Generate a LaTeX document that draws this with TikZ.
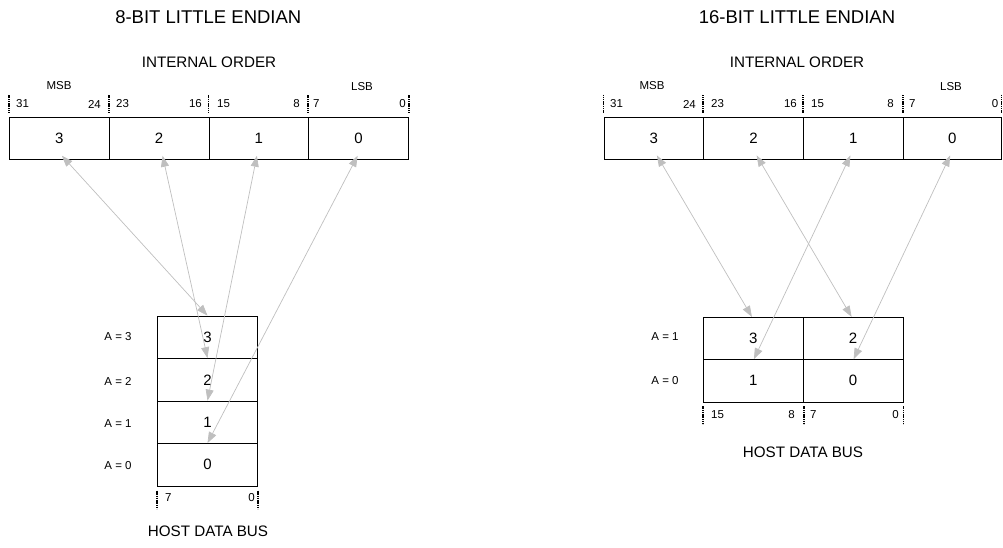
\documentclass[tikz,border=0pt]{standalone}
\usepackage{fontspec}
\setmainfont{Liberation Sans}
\usetikzlibrary{arrows.meta,calc}
\begin{document}
\begin{tikzpicture}[x=1pt,y=-1pt,
  cell/.style={draw=black,line width=0.9pt,minimum width=99.75pt,minimum height=42pt,inner sep=0pt,font=\fontsize{15}{17}\selectfont},
  hcell/.style={draw=black,line width=0.9pt,minimum width=99.6pt,minimum height=42.5pt,inner sep=0pt,font=\fontsize{15}{17}\selectfont},
  link/.style={draw=black!25,line width=0.7pt,{Triangle[length=11pt,width=8pt]}-{Triangle[length=11pt,width=8pt]}},
  tick/.style={line width=1.6pt,dash pattern=on 1.2pt off 0.6pt},
  bit/.style={font=\fontsize{11.5}{13}\selectfont,inner sep=0pt},
  title/.style={font=\fontsize{18.5}{21}\selectfont,inner sep=0pt},
  sub/.style={font=\fontsize{15.2}{17}\selectfont,inner sep=0pt}]
\useasboundingbox (0,0) rectangle (1003,548);

% ================= LEFT: 8-BIT =================
\node[title] (t1) at (208.3,17.3) {8-BIT LITTLE ENDIAN};
\node[sub] (io1) at (209,62.5) {INTERNAL ORDER};
\node[cell] (L3) at (59.4,138.3) {3};
\node[cell] (L2) at (159.1,138.3) {2};
\node[cell] (L1) at (258.9,138.3) {1};
\node[cell] (L0) at (358.6,138.3) {0};
\node[bit] (msb1) at (59,86) {MSB};
\node[bit] (lsb1) at (362,87) {LSB};
\foreach \c in {L3,L2,L1,L0}{
  \draw[tick] ($(\c.north west)+(0,-4)$) -- ($(\c.north west)+(0,-22)$);
}
\draw[tick] ($(L0.north east)+(0,-4)$) -- ($(L0.north east)+(0,-22)$);
\node[bit,anchor=west] (b31) at (16,104) {31};
\node[bit,anchor=east] (b24) at (101,104) {24};
\node[bit,anchor=west] (b23) at (116,104) {23};
\node[bit,anchor=east] (b16) at (202,104) {16};
\node[bit,anchor=west] (b15) at (217,104) {15};
\node[bit,anchor=east] (b8) at (300,104) {8};
\node[bit,anchor=west] (b7) at (313,104) {7};
\node[bit,anchor=east] (b0) at (406,104) {0};

\node[hcell] (H3) at (207.5,337.3) {3};
\node[hcell] (H2) at (207.5,379.8) {2};
\node[hcell] (H1) at (207.5,422.3) {1};
\node[hcell] (H0) at (207.5,464.8) {0};
\node[bit] (a3) at (118,337) {A = 3};
\node[bit] (a2) at (118,381) {A = 2};
\node[bit] (a1) at (118,424) {A = 1};
\node[bit] (a0) at (118,466) {A = 0};
\draw[tick] ($(H0.south west)+(0,4)$) -- ($(H0.south west)+(0,22)$);
\draw[tick] ($(H0.south east)+(0,4)$) -- ($(H0.south east)+(0,22)$);
\node[bit,anchor=west] (hb7) at (165,498) {7};
\node[bit,anchor=east] (hb0) at (255,498) {0};
\node[sub] (hdb1) at (208,531) {HOST DATA BUS};

\draw[link] ([xshift=2.5pt,yshift=4pt]L3.south) -- (H3.north);
\draw[link] ([xshift=3.5pt,yshift=4pt]L2.south) -- (H2.north);
\draw[link] ([xshift=-2pt,yshift=4pt]L1.south) -- (H1.north);
\draw[link] ([xshift=-1pt,yshift=4pt]L0.south) -- (H0.north);

% ================= RIGHT: 16-BIT =================
\node[title] (t2) at (797,17.3) {16-BIT LITTLE ENDIAN};
\node[sub] (io2) at (797,62.5) {INTERNAL ORDER};
\node[cell] (R3) at (653.9,138) {3};
\node[cell] (R2) at (753.6,138) {2};
\node[cell] (R1) at (853.4,138) {1};
\node[cell,minimum width=97.7pt] (R0) at (952.2,138) {0};
\node[bit] (msb2) at (652,86) {MSB};
\node[bit] (lsb2) at (951,87) {LSB};
\foreach \c in {R3,R2,R1,R0}{
  \draw[tick] ($(\c.north west)+(0,-4)$) -- ($(\c.north west)+(0,-22)$);
}
\draw[tick] ($(R0.north east)+(0,-4)$) -- ($(R0.north east)+(0,-22)$);
\node[bit,anchor=west] (c31) at (610,104) {31};
\node[bit,anchor=east] (c24) at (696,104) {24};
\node[bit,anchor=west] (c23) at (711,104) {23};
\node[bit,anchor=east] (c16) at (797,104) {16};
\node[bit,anchor=west] (c15) at (811,104) {15};
\node[bit,anchor=east] (c8) at (894,104) {8};
\node[bit,anchor=west] (c7) at (909,104) {7};
\node[bit,anchor=east] (c0) at (998.5,104) {0};

\node[hcell,minimum width=99.7pt,minimum height=42.3pt] (S3) at (753.4,338.5) {3};
\node[hcell,minimum width=99.7pt,minimum height=42.3pt] (S2) at (853.1,338.5) {2};
\node[hcell,minimum width=99.7pt,minimum height=42.3pt] (S1) at (753.4,380.8) {1};
\node[hcell,minimum width=99.7pt,minimum height=42.3pt] (S0) at (853.1,380.8) {0};
\node[bit] (s1) at (665,337) {A = 1};
\node[bit] (s0) at (665,381) {A = 0};
\draw[tick] ($(S1.south west)+(0,4)$) -- ($(S1.south west)+(0,22)$);
\draw[tick] ($(S1.south east)+(0,4)$) -- ($(S1.south east)+(0,22)$);
\draw[tick] ($(S0.south east)+(0,4)$) -- ($(S0.south east)+(0,22)$);
\node[bit,anchor=west] (d15) at (711,415) {15};
\node[bit,anchor=east] (d8) at (795,415) {8};
\node[bit,anchor=west] (d7) at (810,415) {7};
\node[bit,anchor=east] (d0) at (899,415) {0};
\node[sub] (hdb2) at (803,452) {HOST DATA BUS};

\draw[link] ([xshift=3pt,yshift=4pt]R3.south) -- ([xshift=-1.5pt]S3.north);
\draw[link] ([xshift=3pt,yshift=4pt]R2.south) -- ([xshift=-1.5pt]S2.north);
\draw[link] ([xshift=-3pt,yshift=4pt]R1.south) -- ([xshift=0.5pt]S1.north);
\draw[link] ([xshift=-2pt,yshift=4pt]R0.south) -- ([xshift=0.5pt]S0.north);
\end{tikzpicture}
\end{document}
